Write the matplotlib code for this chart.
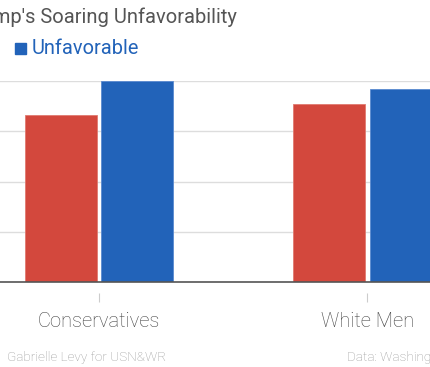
import matplotlib
matplotlib.use("Agg")
import matplotlib.pyplot as plt
import matplotlib.transforms as mtransforms
import numpy as np

plt.rcParams["font.family"] = ["Roboto", "DejaVu Sans"]

categories = ["Conservatives", "White Men"]
red_values = [66.4, 71.0]
blue_values = [80.0, 76.8]
series_names = ["Favorable", "Unfavorable"]
y_ticks = [0, 20, 40, 60, 80]

RED = "#D3483D"
BLUE = "#2263B9"

fig = plt.figure(figsize=(4.3, 3.67), dpi=100)
ax = fig.add_axes([0, 0.2316, 1, 0.5469])

x = np.arange(len(categories))
width = 0.268
offset = 0.1425

ax.bar(x - offset, red_values, width, color=RED, edgecolor="#e07a70", linewidth=0.6, zorder=3)
ax.bar(x + offset, blue_values, width, color=BLUE, edgecolor="#5a8ad0", linewidth=0.6, zorder=3)

ax.set_xlim(-0.369, 1.234)
ax.set_ylim(0, 80)
ax.set_yticks(y_ticks)
ax.yaxis.grid(True, color="#dddddd", linewidth=1.0, zorder=0)
ax.tick_params(axis="y", left=False, labelleft=False)
ax.tick_params(axis="x", bottom=False, labelbottom=False)
for side in ["top", "right", "left"]:
    ax.spines[side].set_visible(False)
ax.spines["bottom"].set_color("#555555")
ax.spines["bottom"].set_linewidth(1.2)
ax.spines["bottom"].set_zorder(4)

# category ticks, detached from the baseline
trans = mtransforms.blended_transform_factory(ax.transData, ax.transAxes)
ax.vlines(x, -0.1, -0.055, color="#cccccc", linewidth=0.8, transform=trans, clip_on=False)
for xi, label in zip(x, categories):
    ax.text(xi, -0.197, label, transform=trans, ha="center", va="center",
            fontsize=14.5, fontweight="light", color="#444444")

fig.text(237 / 430, 1 - 17 / 367, "Trump's Soaring Unfavorability", ha="right", va="center",
         fontsize=14.5, color="#555555")

# legend
fig.patches.append(plt.Rectangle((15 / 430, 1 - 54 / 367), 10.5 / 430, 11 / 367,
                                 transform=fig.transFigure, color=BLUE))
fig.text(32 / 430, 1 - 48.5 / 367, series_names[1], ha="left", va="center",
         fontsize=14.4, color=BLUE)

fig.text(7 / 430, 1 - 357.5 / 367, "Gabrielle Levy for USN&WR", ha="left", va="center",
         fontsize=9.7, fontweight="light", color="#999999")
fig.text(347 / 430, 1 - 357.5 / 367, "Data: Washington Post-ABC News", ha="left", va="center",
         fontsize=9.7, fontweight="light", color="#999999")

fig.savefig("out.png", dpi=100)
